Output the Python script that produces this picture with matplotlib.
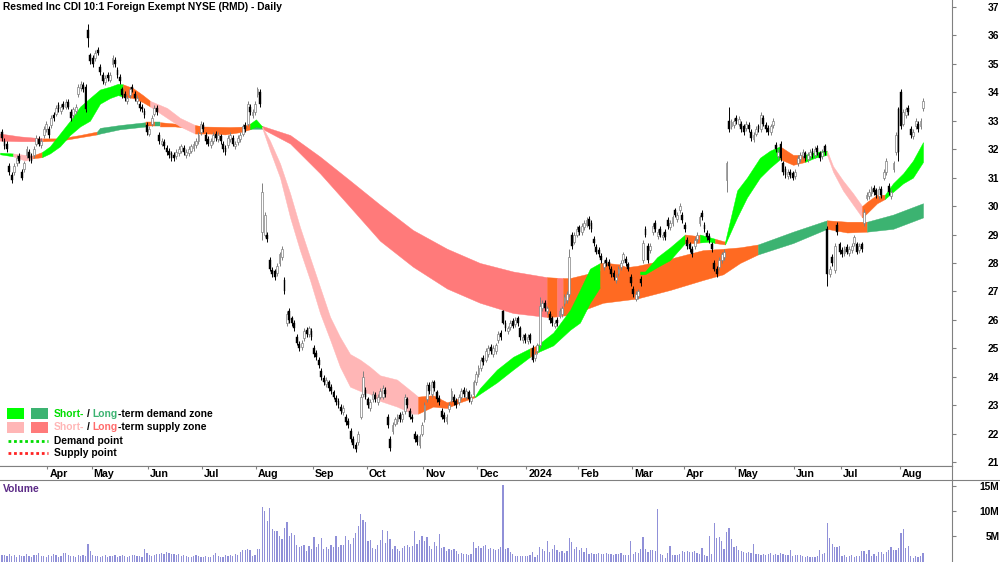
import matplotlib
matplotlib.use('Agg')
import matplotlib.pyplot as plt
import numpy as np
from matplotlib.lines import Line2D
from matplotlib.patches import Rectangle

plt.rcParams['font.family'] = ['Liberation Sans', 'DejaVu Sans']

# ---------------- data ----------------
title = "Resmed Inc CDI 10:1 Foreign Exempt NYSE (RMD) - Daily"

closes = [
 32.4, 32.1, 32.0, 31.2, 30.9, 31.4, 31.7, 31.6, 31.0, 31.5,
 32.0, 31.7, 31.6, 32.0, 32.4, 32.2, 32.3, 32.7, 32.9, 32.5,
 33.1, 33.1, 33.45, 33.4, 33.5, 33.5, 33.65, 33.5, 33.1, 33.4,
 33.5, 34.2, 34.3, 34.1, 33.4, 35.9, 35.1, 35.0, 35.4, 35.4,
 34.7, 34.4, 34.5, 34.5, 34.6, 35.2, 35.0, 34.6, 34.4, 33.9,
 33.8, 33.8, 34.1, 34.1, 33.8, 33.8, 33.45, 33.4, 33.2, 32.6,
 32.7, 33.1, 33.45, 33.3, 32.3, 32.3, 32.1, 31.9, 31.8, 31.7,
 31.7, 31.9, 32.0, 32.1, 31.9, 31.9, 32.0, 32.1, 32.2, 32.3,
 32.5, 32.9, 32.7, 32.3, 32.2, 32.3, 32.5, 32.4, 32.5, 32.3,
 32.0, 31.9, 32.4, 32.5, 32.2, 32.2, 32.4, 32.5, 32.8, 32.7,
 33.6, 33.3, 33.3, 33.6, 34.1, 33.6, 30.5, 29.7, 28.85, 27.8,
 27.6, 27.5, 27.9, 28.3, 28.5, 27.0, 26.2, 26.0, 25.9, 25.7,
 25.2, 25.0, 25.2, 25.6, 25.5, 25.7, 25.4, 24.8, 24.7, 24.4,
 24.0, 23.8, 23.9, 23.6, 23.5, 23.3, 23.1, 23.0, 22.8, 22.9,
 22.4, 22.3, 21.8, 21.6, 21.45, 22.0, 23.3, 24.0, 23.3, 23.0,
 23.1, 23.4, 23.2, 23.3, 23.5, 23.6, 23.4, 22.3, 21.5, 22.3,
 22.5, 22.6, 22.5, 22.7, 23.3, 23.0, 22.6, 22.5, 21.8, 21.7,
 21.9, 22.3, 23.0, 23.7, 23.5, 23.8, 23.6, 23.2, 23.1, 22.6,
 22.5, 22.6, 23.0, 23.5, 23.1, 23.0, 23.3, 23.5, 23.4, 23.5,
 23.2, 23.3, 23.8, 24.1, 24.3, 24.6, 24.5, 24.9, 25.0, 24.9,
 25.0, 25.1, 25.5, 25.4, 25.9, 25.7, 25.7, 25.9, 25.8, 26.0,
 25.9, 25.4, 25.4, 25.3, 25.4, 25.3, 24.6, 24.8, 25.1, 26.5,
 26.6, 26.4, 26.4, 26.0, 25.9, 25.9, 25.9, 26.3, 26.4, 26.8,
 26.9, 28.2, 28.6, 29.0, 29.2, 29.1, 29.3, 29.4, 29.5, 29.3,
 29.2, 28.7, 28.4, 28.3, 28.1, 28.0, 28.0, 27.9, 27.6, 27.5,
 27.5, 27.8, 28.0, 28.3, 28.0, 27.8, 27.3, 26.9, 26.9, 27.0,
 27.3, 28.7, 29.0, 28.1, 28.6, 29.3, 29.2, 29.1, 29.0, 29.0,
 28.9, 29.3, 29.4, 29.6, 29.7, 29.7, 30.0, 29.5, 29.2, 28.6,
 28.5, 28.3, 28.8, 29.0, 29.6, 29.6, 29.2, 28.9, 28.8, 28.5,
 27.8, 27.6, 28.1, 28.3, 28.4, 31.5, 32.7, 32.95, 33.0, 33.0,
 33.05, 32.7, 32.6, 32.9, 32.7, 32.4, 32.5, 32.7, 32.7, 33.2,
 32.9, 32.7, 32.6, 32.8, 33.0, 32.0, 31.9, 31.7, 31.2, 31.1,
 31.2, 31.1, 31.0, 31.2, 31.7, 31.8, 31.9, 31.7, 31.8, 31.9,
 31.8, 32.0, 31.9, 31.7, 31.9, 31.9, 27.6, 27.8, 28.0, 28.6,
 29.1, 28.4, 28.3, 28.5, 28.4, 28.5, 28.6, 28.9, 28.4, 28.6,
 28.5, 29.8, 30.4, 30.5, 30.6, 30.5, 30.4, 30.6, 30.4, 31.2,
 31.6, 30.5, 30.5, 31.5, 32.5, 31.9, 32.8, 33.3, 33.4, 33.3,
 32.5, 32.6, 33.0, 32.7, 33.0, 33.7,
]
opens = [
 32.6, 32.3, 32.2, 31.4, 31.1, 31.2, 31.5, 31.75, 31.2, 31.3,
 31.8, 31.9, 31.75, 31.8, 32.2, 32.35, 32.15, 32.5, 32.7, 32.7,
 32.85, 33.2, 33.25, 33.55, 33.35, 33.6, 33.5, 33.65, 33.3, 33.2,
 33.35, 33.95, 34.15, 34.25, 34.2, 36.2, 35.3, 35.2, 35.2, 35.5,
 34.9, 34.6, 34.35, 34.6, 34.45, 35.0, 35.15, 34.8, 34.55, 34.1,
 33.95, 33.7, 33.9, 34.2, 33.95, 33.7, 33.6, 33.5, 33.35, 32.85,
 32.55, 32.9, 33.25, 33.45, 32.5, 32.2, 32.25, 32.05, 31.95, 31.85,
 31.8, 31.75, 31.85, 31.95, 32.05, 31.8, 31.85, 31.95, 32.05, 32.15,
 32.3, 32.6, 32.85, 32.5, 32.35, 32.15, 32.3, 32.55, 32.35, 32.45,
 32.2, 32.05, 32.15, 32.35, 32.4, 32.1, 32.25, 32.35, 32.55, 32.85,
 32.9, 33.5, 33.2, 33.3, 33.95, 34.0, 29.1, 29.0, 29.0, 28.1,
 27.75, 27.7, 27.65, 28.0, 28.2, 27.4, 25.9, 26.3, 26.05, 25.9,
 25.4, 25.15, 25.05, 25.35, 25.65, 25.5, 25.6, 25.0, 24.85, 24.6,
 24.2, 23.95, 23.75, 23.8, 23.65, 23.45, 23.25, 23.15, 22.95, 22.75,
 22.6, 22.45, 22.1, 21.8, 21.6, 21.7, 22.6, 23.4, 23.55, 23.2,
 22.9, 23.2, 23.35, 23.1, 23.3, 23.3, 23.55, 22.6, 21.8, 22.1,
 22.35, 22.45, 22.65, 22.5, 22.8, 23.2, 22.8, 22.6, 22.0, 21.9,
 21.6, 22.0, 22.5, 23.2, 23.7, 23.4, 23.8, 23.45, 23.25, 22.8,
 22.65, 22.45, 22.85, 23.2, 23.3, 23.15, 23.1, 23.3, 23.55, 23.3,
 23.45, 23.15, 23.4, 23.8, 24.1, 24.3, 24.65, 24.6, 24.8, 25.05,
 24.8, 24.9, 25.3, 25.55, 26.3, 25.9, 25.6, 25.75, 25.95, 25.85,
 26.05, 25.7, 25.3, 25.45, 25.25, 25.45, 25.0, 24.65, 24.9, 25.1,
 26.4, 26.6, 26.3, 26.2, 26.05, 25.8, 26.0, 26.15, 26.2, 26.6,
 26.7, 26.9, 29.0, 28.75, 29.0, 29.25, 29.1, 29.25, 29.35, 29.55,
 29.4, 28.85, 28.55, 28.45, 28.25, 27.85, 28.1, 28.05, 27.8, 27.65,
 27.4, 27.65, 27.85, 28.1, 28.15, 27.95, 27.5, 27.1, 26.75, 26.85,
 27.45, 28.1, 29.2, 28.6, 28.45, 29.1, 29.4, 28.95, 29.2, 28.9,
 29.1, 29.5, 29.25, 29.4, 29.85, 29.55, 29.85, 29.7, 29.35, 28.8,
 28.65, 28.5, 28.6, 28.85, 29.4, 29.75, 29.35, 29.05, 28.95, 28.65,
 28.0, 27.8, 27.85, 28.1, 28.2, 30.9, 33.0, 32.8, 32.85, 33.1,
 32.9, 32.9, 32.8, 32.75, 32.85, 32.6, 32.35, 32.55, 32.8, 32.7,
 33.1, 32.85, 32.75, 32.6, 32.85, 32.15, 31.75, 32.2, 31.5, 31.3,
 31.05, 31.2, 31.15, 31.05, 31.5, 31.65, 31.75, 31.85, 31.65, 31.75,
 31.95, 31.8, 32.05, 31.85, 31.75, 32.1, 29.2, 27.6, 28.2, 27.75,
 29.35, 28.65, 28.45, 28.35, 28.55, 28.35, 28.45, 28.7, 28.65, 28.45,
 28.65, 29.4, 30.3, 30.35, 30.45, 30.65, 30.55, 30.35, 30.6, 31.0,
 31.2, 30.7, 30.35, 31.3, 31.9, 33.4, 34.0, 32.9, 33.2, 33.45,
 32.7, 32.45, 32.8, 32.9, 32.8, 33.45,
]
# bars whose high/low were read separately: bar -> (high, low)
hl_overrides = {
    35: (36.4, 35.6), 106: (30.8, 28.8), 146: (23.4, 22.5), 147: (24.2, 23.3),
    204: (26.35, 25.85), 219: (26.8, 25.0), 231: (28.5, 26.8), 295: (31.6, 30.5),
    296: (33.5, 32.6), 336: (29.3, 27.2), 365: (33.5, 31.6), 366: (34.1, 32.7),
}
wick = 0.1  # typical wick beyond the body where not read separately

volumes = [  # millions
 1.2, 1.3, 1.0, 1.4, 1.1, 1.2, 0.9, 1.3, 1.0, 1.1,
 1.4, 1.0, 0.9, 1.2, 1.3, 1.7, 1.1, 1.0, 0.9, 1.2,
 1.0, 1.5, 1.2, 0.9, 1.1, 1.6, 1.7, 1.2, 1.0, 1.1,
 0.9, 1.2, 1.0, 1.3, 1.1, 3.5, 2.0, 1.2, 1.0, 1.1,
 0.8, 1.0, 1.2, 0.9, 1.1, 1.0, 1.3, 0.9, 1.0, 1.2,
 1.1, 0.9, 1.0, 1.3, 1.2, 1.1, 1.0, 0.9, 2.5, 1.6,
 1.2, 1.0, 1.3, 1.5, 1.4, 1.7, 1.5, 1.8, 1.6, 1.4,
 1.5, 1.2, 1.4, 1.1, 1.2, 1.0, 0.9, 0.8, 1.0, 1.3,
 1.1, 0.9, 0.8, 1.0, 0.8, 0.9, 1.2, 1.7, 1.1, 0.9,
 0.8, 1.2, 1.0, 1.3, 1.0, 1.4, 1.2, 1.8, 2.2, 2.3,
 2.4, 2.3, 1.0, 1.2, 2.4, 2.5, 10.9, 10.0, 8.0, 10.6,
 6.5, 6.1, 6.0, 5.0, 4.5, 6.7, 7.8, 5.0, 5.6, 5.2,
 3.2, 2.9, 3.0, 3.3, 2.0, 3.1, 2.5, 4.8, 2.9, 3.5,
 4.6, 2.4, 2.9, 2.5, 3.3, 2.9, 5.1, 2.9, 3.3, 3.3,
 5.1, 4.3, 3.5, 4.6, 5.6, 7.0, 9.4, 8.2, 7.9, 4.0,
 4.3, 2.7, 2.5, 3.2, 4.3, 6.3, 3.7, 6.1, 4.5, 2.5,
 3.0, 2.4, 2.0, 2.6, 3.1, 3.3, 2.8, 3.1, 6.1, 3.5,
 4.3, 5.0, 4.0, 4.8, 3.1, 2.4, 3.9, 3.0, 5.5, 2.7,
 2.9, 2.0, 2.5, 2.2, 2.4, 2.0, 1.4, 1.6, 1.5, 1.4,
 1.2, 1.4, 3.9, 2.6, 3.1, 2.7, 3.0, 3.2, 2.5, 2.7,
 2.4, 2.2, 2.5, 2.9, 15.1, 2.4, 2.6, 1.9, 1.4, 1.0,
 1.0, 1.1, 1.0, 1.0, 1.0, 1.2, 1.9, 0.9, 1.2, 2.9,
 2.5, 2.0, 4.0, 1.9, 2.4, 3.3, 2.2, 1.8, 2.0, 1.6,
 2.0, 4.6, 3.9, 2.4, 2.9, 2.2, 2.6, 1.8, 2.6, 1.5,
 1.6, 1.4, 1.5, 1.7, 1.4, 1.5, 1.6, 1.4, 1.5, 1.3,
 1.4, 1.5, 1.7, 1.3, 1.2, 1.2, 4.1, 1.5, 1.9, 1.6,
 2.5, 4.8, 2.5, 1.9, 2.2, 2.2, 2.0, 10.5, 1.5, 1.2,
 0.7, 1.6, 3.1, 1.3, 1.2, 1.2, 1.4, 2.0, 1.9, 2.1,
 1.9, 1.8, 2.0, 1.6, 1.4, 2.7, 1.2, 1.0, 5.1, 1.5,
 7.6, 4.6, 4.8, 4.0, 2.5, 5.8, 6.6, 4.5, 2.9, 3.0,
 2.2, 2.0, 1.8, 1.7, 1.8, 1.6, 3.5, 1.5, 1.4, 1.3,
 1.4, 1.3, 1.5, 1.6, 1.3, 1.5, 1.2, 1.6, 1.4, 1.3,
 1.2, 2.2, 1.1, 1.2, 1.3, 1.2, 1.0, 0.9, 1.0, 0.9,
 0.9, 0.8, 1.0, 2.2, 1.4, 1.6, 7.6, 4.6, 3.4, 2.9,
 2.9, 3.1, 1.0, 1.2, 0.9, 1.1, 1.2, 0.9, 1.0, 1.1,
 2.0, 2.0, 1.5, 2.3, 1.0, 1.4, 1.0, 1.8, 1.8, 1.5,
 1.8, 2.2, 2.8, 2.2, 2.3, 2.7, 5.6, 6.5, 2.7, 3.0,
 1.0, 0.7, 1.0, 0.9, 1.0, 1.7,
]

month_labels = ["Apr", "May", "Jun", "Jul", "Aug", "Sep", "Oct", "Nov", "Dec",
                "2024", "Feb", "Mar", "Apr", "May", "Jun", "Jul", "Aug"]
month_start = [19, 37, 60, 82, 104, 127, 149, 172, 194, 214, 235, 257, 278, 299, 323, 342, 366]

price_ticks = list(range(21, 38))
vol_ticks = [5, 10, 15]
vol_tick_labels = ["5M", "10M", "15M"]

# short-term zone (bar position, upper, lower)
st_x = [-0.8, 4.5, 9.4, 12.6, 16.3, 19.5, 23.6, 27.7, 31.8, 35.8, 39.9, 44.0, 47.2, 49.3,
        53.3, 57.4, 60.3, 67.2, 72.5, 78.6, 84.7, 90.8, 96.9, 101.0, 103.4, 105.9, 109.1,
        113.2, 117.3, 121.3, 125.4, 129.5, 133.6, 137.6, 141.7, 145.8, 149.8, 153.9, 160.8,
        167.3, 169.4, 175.5, 181.2, 186.5, 192.6, 194.6, 201.5, 208.1, 215.0, 217.8, 224.4,
        231.3, 235.3, 239.4, 243.5, 246.3, 251.6, 255.7, 259.8, 261.8, 266.7, 272.0, 278.1,
        283.0, 284.2, 288.3, 290.3, 294.4, 299.3, 303.3, 308.6, 312.7, 316.8, 322.1, 326.9,
        331.0, 335.9, 338.4, 342.4, 346.5, 350.2, 352.2, 356.3, 359.5, 362.8, 366.9, 370.9, 375.0]
st_hi = [31.88, 31.85, 31.8, 31.78, 31.9, 32.1, 32.55, 33.0, 33.5, 33.8, 34.1, 34.2, 34.3, 34.28,
         34.15, 33.9, 33.7, 33.45, 33.1, 32.85, 32.75, 32.72, 32.75, 32.9, 33.05, 32.8, 32.3,
         31.5, 30.45, 29.27, 28.2, 27.15, 26.1, 25.4, 24.8, 24.6, 24.35, 24.05, 23.9,
         23.45, 23.3, 23.35, 23.1, 23.25, 23.32, 23.6, 24.25, 24.7, 25.0, 25.1, 25.55,
         26.35, 27.05, 27.8, 28.0, 28.0, 27.95, 27.8, 27.7, 27.7, 28.2, 28.55, 29.0,
         28.95, 29.0, 28.9, 28.85, 28.75, 30.55, 31.0, 31.7, 31.95, 32.1, 31.8, 31.8,
         31.9, 31.95, 31.4, 30.9, 30.45, 30.0, 30.15, 30.4, 30.4, 30.8, 31.15, 31.6, 32.25]
st_lo = [31.82, 31.75, 31.6, 31.68, 31.72, 31.85, 32.1, 32.5, 32.8, 33.0, 33.6, 33.8, 33.9, 33.85,
         33.8, 33.65, 33.5, 33.1, 32.8, 32.55, 32.55, 32.52, 32.6, 32.7, 32.8, 32.75, 31.95,
         31.0, 29.6, 28.45, 27.4, 26.23, 25.3, 24.35, 23.65, 23.5, 23.4, 23.15, 22.95,
         22.7, 22.7, 22.95, 22.9, 23.1, 23.28, 23.4, 23.8, 24.25, 24.7, 24.85, 25.1,
         25.65, 25.9, 26.6, 27.15, 27.4, 27.55, 27.6, 27.6, 27.6, 27.85, 28.1, 28.7,
         28.7, 28.72, 28.75, 28.7, 28.65, 29.6, 30.3, 31.0, 31.35, 31.65, 31.45, 31.55,
         31.7, 31.8, 31.2, 30.55, 30.05, 29.6, 29.75, 30.1, 30.25, 30.5, 30.8, 31.0, 31.55]
# zone state changes: (from bar, state) d=demand, s=supply, n=neutral
st_zones = [(-0.8, 'd'), (4.5, 's'), (12.6, 'n'), (16.3, 'd'), (49.3, 'n'), (60.3, 's'),
            (78.6, 'n'), (101.0, 'd'), (105.9, 's'), (169.4, 'n'), (192.6, 'd'), (215.0, 'n'),
            (217.8, 'd'), (243.5, 'n'), (259.8, 'd'), (278.1, 'n'), (284.2, 'd'), (290.3, 'n'),
            (294.4, 'd'), (316.8, 'n'), (326.9, 'd'), (335.9, 's'), (350.2, 'n'), (359.5, 'd')]

# long-term zone
lt_x = [-0.8, 7.3, 16.7, 23.6, 31.8, 38.7, 39.9, 48.0, 58.6, 62.3, 64.3, 70.4, 80.6, 92.8,
        101.0, 105.9, 117.3, 129.5, 141.7, 153.9, 167.3, 181.2, 194.6, 208.1, 221.9, 226.0,
        228.4, 231.3, 244.7, 258.6, 272.0, 285.4, 293.6, 300.5, 307.8, 322.1, 335.9, 344.1,
        352.2, 362.8, 375.0]
lt_hi = [32.55, 32.45, 32.38, 32.38, 32.5, 32.62, 32.75, 32.85, 32.95, 32.95, 32.95, 32.9,
         32.8, 32.78, 32.8, 32.82, 32.5, 31.74, 30.9, 30.05, 29.16, 28.5, 28.0, 27.7, 27.5,
         27.48, 27.47, 27.47, 27.75, 27.9, 28.15, 28.45, 28.5, 28.55, 28.65, 29.1, 29.5,
         29.45, 29.45, 29.7, 30.1]
lt_lo = [32.3, 32.28, 32.28, 32.3, 32.42, 32.52, 32.55, 32.7, 32.8, 32.8, 32.8, 32.8,
         32.7, 32.7, 32.72, 32.72, 32.2, 31.15, 29.97, 28.78, 27.87, 27.1, 26.6, 26.24, 26.1,
         26.12, 26.15, 26.17, 26.6, 26.75, 27.05, 27.4, 27.6, 28.0, 28.3, 28.7, 29.2,
         29.07, 29.1, 29.2, 29.6]
lt_zones = [(-0.8, 's'), (16.7, 'n'), (38.7, 'd'), (58.6, 'n'), (62.3, 'd'), (64.3, 'n'),
            (101.0, 'd'), (105.9, 's'), (221.9, 'n'), (226.0, 's'), (228.4, 'n'),
            (307.8, 'd'), (335.9, 'n'), (352.2, 'd')]

# ---------------- style ----------------
C_ST = {'d': '#00FF00', 's': '#FFB6B6', 'n': '#FF6A22'}
C_LT = {'d': '#3CB371', 's': '#FF7A7A', 'n': '#FF6A22'}
GRAY = '#808080'
FS = 7.4
W, H = 1000, 562


def fx(px):
    return px / W


def fy(py):
    return 1 - py / H


fig = plt.figure(figsize=(10, 5.62), dpi=100)
XL = (-0.814, 386.8)
RIGHT = 952
P_BOT = 466
V_TOP = 480

# ---------------- price panel ----------------
ax = fig.add_axes([0, fy(P_BOT), fx(RIGHT), P_BOT / H])
ax.set_xlim(*XL)
ax.set_ylim(37 - (P_BOT - 7) / 28.44, 37 + 7 / 28.44)


def draw_zone(xs, hi, lo, zones, cmap):
    xs = np.asarray(xs); hi = np.asarray(hi); lo = np.asarray(lo)
    bounds = [z[0] for z in zones] + [xs[-1]]
    for k, (s, st) in enumerate(zones):
        e = bounds[k + 1]
        m = (xs >= s - 1e-9) & (xs <= e + 1e-9)
        ax.fill_between(xs[m], lo[m], hi[m], color=cmap[st], lw=0.3, ec=cmap[st], zorder=2)


draw_zone(lt_x, lt_hi, lt_lo, lt_zones, C_LT)
draw_zone(st_x, st_hi, st_lo, st_zones, C_ST)

n = len(closes)
xb = np.arange(n)
c = np.array(closes, float)
o = np.array(opens, float)
hi = np.maximum(o, c) + wick
lo = np.minimum(o, c) - wick
for i, (hh, ll) in hl_overrides.items():
    hi[i], lo[i] = hh, ll
up = c >= o
ax.vlines(xb[up], lo[up], hi[up], color=GRAY, lw=0.7, zorder=3)
ax.vlines(xb[~up], lo[~up], hi[~up], color='black', lw=0.7, zorder=3)
bh = np.maximum(np.abs(c - o), 0.05)
bb = np.minimum(o, c)
ax.bar(xb[up], bh[up], bottom=bb[up], width=0.75, color='white', edgecolor=GRAY, lw=0.5, zorder=4)
ax.bar(xb[~up], bh[~up], bottom=bb[~up], width=0.75, color='black', edgecolor='black', lw=0.3, zorder=4)

for s in ['left', 'top']:
    ax.spines[s].set_visible(False)
ax.spines['right'].set_color(GRAY)
ax.spines['bottom'].set_color(GRAY)
ax.set_xticks([])
ax.yaxis.tick_right()
ax.set_yticks(price_ticks)
ax.set_yticklabels([str(t) for t in price_ticks], fontsize=FS, fontweight='bold')
ax.tick_params(axis='y', length=3, color=GRAY, pad=31)
for lab in ax.get_yticklabels():
    lab.set_horizontalalignment('right')

# ---------------- month strip ----------------
axm = fig.add_axes([0, fy(V_TOP), fx(RIGHT), (V_TOP - P_BOT) / H])
axm.set_xlim(*XL)
axm.set_ylim(0, 1)
axm.set_yticks([])
for s in ['left', 'top', 'bottom']:
    axm.spines[s].set_visible(False)
axm.spines['right'].set_color(GRAY)
axm.xaxis.tick_top()
axm.set_xticks([m - 0.5 for m in month_start])
axm.set_xticklabels([])
axm.tick_params(axis='x', direction='in', length=2.5, color=GRAY)
for m, lab in zip(month_start, month_labels):
    axm.text(m + 0.3, 0.42, lab, fontsize=FS + 0.3, fontweight='bold', ha='left', va='center')

# ---------------- volume panel ----------------
axv = fig.add_axes([0, 0, fx(RIGHT), (H - V_TOP) / H])
axv.set_xlim(*XL)
vpx = 5.1
axv.set_ylim(-0.5 / vpx, (562.5 - V_TOP) / vpx)
axv.bar(xb, volumes, width=0.5, color='#9090D8', lw=0, zorder=2)
for s in ['left', 'top', 'bottom']:
    axv.spines[s].set_visible(False)
axv.spines['right'].set_color(GRAY)
axv.set_xticks([])
axv.yaxis.tick_right()
axv.set_yticks(vol_ticks)
axv.set_yticklabels(vol_tick_labels, fontsize=FS, fontweight='bold')
axv.tick_params(axis='y', length=3, color=GRAY, pad=31)
for lab in axv.get_yticklabels():
    lab.set_horizontalalignment('right')
fig.text(fx(3), fy(489), "Volume", color='#5B2A86', fontsize=FS, fontweight='bold', ha='left', va='center')

# separator lines
fig.add_artist(Line2D([0, 1], [fy(V_TOP), fy(V_TOP)], color=GRAY, lw=0.8))
fig.add_artist(Line2D([0, fx(RIGHT)], [fy(P_BOT), fy(P_BOT)], color=GRAY, lw=0.8))

# ---------------- title ----------------
fig.text(fx(3), fy(7), title, fontsize=FS, fontweight='bold', ha='left', va='center')

# ---------------- legend ----------------
renderer = fig.canvas.get_renderer()


def seq_text(x_px, y_px, parts, gap=2.8):
    cur = x_px
    for s, col, sp in parts:
        t = fig.text(fx(cur), fy(y_px), s, color=col, fontsize=FS, fontweight='bold', ha='left', va='center')
        cur += t.get_window_extent(renderer).width + (gap if sp else 0.5)


def square(x0, y0, col):
    fig.add_artist(Rectangle((fx(x0), fy(y0 + 11)), fx(17), 11 / H, transform=fig.transFigure,
                             facecolor=col, edgecolor='none'))


square(7, 408, C_ST['d']); square(31, 408, C_LT['d'])
square(7, 422, C_ST['s']); square(31, 422, C_LT['s'])
seq_text(54, 414, [("Short-", '#00DD00', True), ("/", 'black', True), ("Long", C_LT['d'], False),
                   ("-term demand zone", 'black', False)])
seq_text(54, 427, [("Short-", C_ST['s'], True), ("/", 'black', True), ("Long", '#FF6B6B', False),
                   ("-term supply zone", 'black', False)])
fig.add_artist(Line2D([fx(8), fx(48)], [fy(441), fy(441)], color='#00DD00', lw=2, ls=(0, (1, 1))))
fig.add_artist(Line2D([fx(8), fx(48)], [fy(453), fy(453)], color='#FF2222', lw=2, ls=(0, (1, 1))))
fig.text(fx(54), fy(441), "Demand point", fontsize=FS, fontweight='bold', ha='left', va='center')
fig.text(fx(54), fy(453), "Supply point", fontsize=FS, fontweight='bold', ha='left', va='center')

fig.savefig('out.png', dpi=100)
